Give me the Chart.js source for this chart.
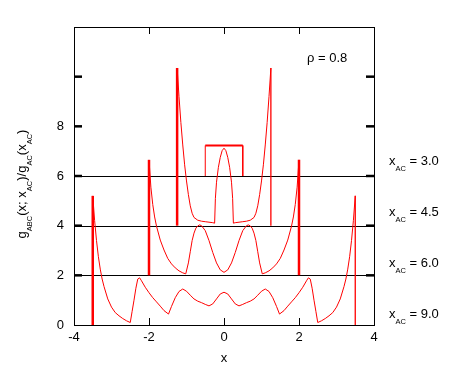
<!DOCTYPE html>
<html>
<head>
<meta charset="utf-8">
<script src="https://cdn.jsdelivr.net/npm/chart.js@4.4.1/dist/chart.umd.min.js"></script>
<style>
body { margin: 0; background: #fff; }
#wrap { width: 449px; height: 375px; }
</style>
</head>
<body>
<div id="wrap"><canvas id="gabc"></canvas></div>
<script>
// tick marks / labels
const xTickVals = [-4, -2, 0, 2, 4];
const yTickVals = [0, 2, 4, 6, 8, 10];
const yTickLabels = ['0', '2', '4', '6', '8', ''];

// curve names (x_AC) and the baselines each one is shifted onto
const seriesNames = ['3.0', '4.5', '6.0', '9.0'];
const baselines = [6, 4, 2];
const rhoText = 'ρ = 0.8';

// x_AC = 3.0 (shifted by 6)
const x30 = [-0.5, -0.5, 0.5, 0.5];
const y30 = [6, 7.23, 7.23, 6];

// x_AC = 4.5 (shifted by 4)
const x45 = [-1.25, -1.25, -1.2, -1.15, -1.1, -1.05, -1.0, -0.95, -0.9, -0.85, -0.8, -0.7, -0.6, -0.5, -0.4, -0.3,
  -0.25, -0.23, -0.2, -0.15, -0.1, -0.05, 0,
  0.05, 0.1, 0.15, 0.2, 0.23, 0.25, 0.3, 0.4, 0.5, 0.6, 0.7, 0.8, 0.85, 0.9, 0.95, 1.0, 1.05, 1.1, 1.15, 1.2, 1.25, 1.25];
const y45 = [4, 10.35, 9.2, 8.15, 7.25, 6.45, 5.8, 5.25, 4.8, 4.5, 4.33, 4.22, 4.18, 4.16, 4.14, 4.12,
  4.1, 5.1, 5.75, 6.35, 6.75, 7.02, 7.12,
  7.02, 6.75, 6.35, 5.75, 5.1, 4.1, 4.12, 4.14, 4.16, 4.18, 4.22, 4.33, 4.5, 4.8, 5.25, 5.8, 6.45, 7.25, 8.15, 9.2, 10.35, 4];

// x_AC = 6.0 (shifted by 2)
const x60 = [-2, -2, -1.95, -1.9, -1.85, -1.8, -1.7, -1.6, -1.5, -1.4, -1.3, -1.2, -1.1, -1.02,
  -0.95, -0.9, -0.85, -0.8, -0.75, -0.7, -0.65, -0.6, -0.5, -0.4, -0.3, -0.2, -0.1, 0,
  0.1, 0.2, 0.3, 0.4, 0.5, 0.6, 0.65, 0.7, 0.75, 0.8, 0.85, 0.9, 0.95,
  1.02, 1.1, 1.2, 1.3, 1.4, 1.5, 1.6, 1.7, 1.8, 1.85, 1.9, 1.95, 2, 2];
const y60 = [2, 6.65, 5.55, 4.85, 4.35, 3.98, 3.42, 3.02, 2.68, 2.46, 2.3, 2.18, 2.1, 2.06,
  2.5, 2.95, 3.4, 3.7, 3.9, 3.99, 4.03, 4.0, 3.8, 3.4, 2.92, 2.5, 2.22, 2.12,
  2.22, 2.5, 2.92, 3.4, 3.8, 4.0, 4.03, 3.99, 3.9, 3.7, 3.4, 2.95, 2.5,
  2.06, 2.1, 2.18, 2.3, 2.46, 2.68, 3.02, 3.42, 3.98, 4.35, 4.85, 5.55, 6.65, 2];

// x_AC = 9.0 (no shift)
const x90 = [-3.5, -3.5, -3.45, -3.4, -3.35, -3.3, -3.25, -3.2, -3.1, -3.0, -2.9, -2.8, -2.7, -2.6, -2.5,
  -2.45, -2.4, -2.35, -2.3, -2.25, -2.2, -2.1, -2.0, -1.9, -1.8, -1.7, -1.6, -1.48,
  -1.4, -1.3, -1.2, -1.1, -1.0, -0.9, -0.8, -0.7, -0.6, -0.5, -0.4, -0.3, -0.2, -0.1, 0,
  0.1, 0.2, 0.3, 0.4, 0.5, 0.6, 0.7, 0.8, 0.9, 1.0, 1.1, 1.2, 1.3, 1.4,
  1.48, 1.6, 1.7, 1.8, 1.9, 2.0, 2.1, 2.2, 2.25, 2.3, 2.35, 2.4, 2.45,
  2.5, 2.6, 2.7, 2.8, 2.9, 3.0, 3.1, 3.2, 3.25, 3.3, 3.35, 3.4, 3.45, 3.5, 3.5];
const y90 = [0, 5.2, 4.2, 3.4, 2.75, 2.25, 1.85, 1.55, 1.05, 0.72, 0.5, 0.37, 0.26, 0.17, 0.1,
  0.55, 1.0, 1.48, 1.85, 1.9, 1.78, 1.52, 1.3, 1.1, 0.93, 0.76, 0.58, 0.44,
  0.75, 1.1, 1.35, 1.45, 1.36, 1.2, 1.05, 0.96, 0.9, 0.83, 0.77, 0.85, 1.05, 1.25, 1.32,
  1.25, 1.05, 0.85, 0.77, 0.83, 0.9, 0.96, 1.05, 1.2, 1.36, 1.45, 1.35, 1.1, 0.75,
  0.44, 0.58, 0.76, 0.93, 1.1, 1.3, 1.52, 1.78, 1.9, 1.85, 1.48, 1.0, 0.55,
  0.1, 0.17, 0.26, 0.37, 0.5, 0.72, 1.05, 1.55, 1.85, 2.25, 2.75, 3.4, 4.2, 5.2, 0];

const MAIN = '13px "Liberation Sans", Arial, sans-serif';
const SUB = '7.5px "Liberation Sans", Arial, sans-serif';
Chart.defaults.font.family = '"Liberation Sans", Arial, sans-serif';
Chart.defaults.color = '#000';

function pts(xs, ys) {
  return xs.map((x, i) => ({ x: x, y: ys[i] }));
}
const vertical = c => c.p0.parsed.x === c.p1.parsed.x;
// wall stroke widths as gnuplot rendered them (left side heavy, right side lighter)
const rightWall = [1, 1.3, 2.5, 1.3];

const datasets = [];
const curves = [[x30, y30], [x45, y45], [x60, y60], [x90, y90]];
curves.forEach((c, i) => {
  const box = i === 0;
  datasets.push({
    label: seriesNames[i],
    data: pts(c[0], c[1]),
    showLine: true,
    borderColor: '#ff0000',
    borderWidth: 1,
    pointRadius: 0,
    segment: {
      borderWidth: s => {
        if (box) return vertical(s) ? 1 : 2;
        if (!vertical(s)) return 1;
        return s.p0.parsed.x < 0 ? 2.5 : rightWall[i];
      }
    }
  });
});

function richWidth(ctx, parts) {
  let w = 0;
  for (const p of parts) { ctx.font = p[1] ? SUB : MAIN; w += ctx.measureText(p[0]).width; }
  return w;
}
function drawRich(ctx, x, y, parts) {
  for (const p of parts) {
    ctx.font = p[1] ? SUB : MAIN;
    ctx.fillText(p[0], x, p[1] ? y + 6 : y);
    x += ctx.measureText(p[0]).width;
  }
}

const frame = {
  id: 'frame',
  beforeDatasetsDraw(chart) {
    // black zero lines of the shifted curves
    const { ctx, chartArea: a, scales } = chart;
    ctx.save();
    ctx.strokeStyle = '#000';
    ctx.lineWidth = 1;
    baselines.forEach(b => {
      const py = Math.round(scales.y.getPixelForValue(b)) + 0.5;
      ctx.beginPath();
      ctx.moveTo(scales.x.getPixelForValue(-4), py);
      ctx.lineTo(scales.x.getPixelForValue(4), py);
      ctx.stroke();
    });
    ctx.restore();
  },
  afterDatasetsDraw(chart) {
    const { ctx, chartArea: a, scales } = chart;
    const xs = scales.x, ys = scales.y;
    ctx.save();
    ctx.strokeStyle = '#000';
    ctx.fillStyle = '#000';
    ctx.lineWidth = 1;
    ctx.strokeRect(a.left + 0.5, a.top + 0.5, a.right - a.left, a.bottom - a.top);
    // y ticks, both sides, inward
    yTickVals.forEach(v => {
      if (v === 0) return;
      const py = ys.getPixelForValue(v);
      ctx.fillRect(a.left, py - 1.25, 8, 2.5);
      ctx.fillRect(a.right - 8, py - 1.25, 9, 2.5);
    });
    // x ticks top and bottom
    xTickVals.forEach(v => {
      if (v === -4 || v === 4) return;
      const px = Math.round(xs.getPixelForValue(v)) + 0.5;
      ctx.beginPath();
      ctx.moveTo(px, a.bottom); ctx.lineTo(px, a.bottom - 7);
      ctx.moveTo(px, a.top); ctx.lineTo(px, a.top + 7);
      ctx.stroke();
    });
    ctx.restore();
  },
  afterDraw(chart) {
    const { ctx, chartArea: a, scales } = chart;
    ctx.save();
    ctx.fillStyle = '#000';
    ctx.textBaseline = 'alphabetic';
    ctx.textAlign = 'left';
    // curve labels on the right
    seriesNames.forEach((n, i) => {
      drawRich(ctx, a.right + 15, 165 + i * 51, [['x', 0], ['AC', 1], [' = ' + n, 0]]);
    });
    // rho
    ctx.font = MAIN;
    ctx.fillText(rhoText, 307, 62);
    // x title
    ctx.textAlign = 'center';
    ctx.textBaseline = 'middle';
    ctx.fillText('x', scales.x.getPixelForValue(0), 358);
    // y title
    ctx.textAlign = 'left';
    ctx.textBaseline = 'alphabetic';
    const yt = [['g', 0], ['ABC', 1], ['(x; x', 0], ['AC', 1], [')/g', 0], ['AC', 1], ['(x', 0], ['AC', 1], [')', 0]];
    const w = richWidth(ctx, yt);
    ctx.translate(26, 184);
    ctx.rotate(-Math.PI / 2);
    drawRich(ctx, -w / 2, 0, yt);
    ctx.restore();
  }
};

new Chart(document.getElementById('gabc'), {
  type: 'scatter',
  data: { datasets: datasets },
  options: {
    responsive: true,
    maintainAspectRatio: false,
    animation: false,
    layout: { padding: { top: 27, right: 75, left: 0, bottom: 0 } },
    plugins: { legend: { display: false }, tooltip: { enabled: false } },
    elements: { point: { radius: 0 }, line: { tension: 0 } },
    scales: {
      x: {
        type: 'linear', min: -4, max: 4,
        afterBuildTicks: s => { s.ticks = xTickVals.map(v => ({ value: v })); },
        afterFit: s => { s.height = 50; },
        ticks: { color: '#000', font: { size: 13 }, padding: 5, maxRotation: 0, callback: v => String(v) },
        grid: { display: false, drawTicks: false },
        border: { display: false }
      },
      y: {
        type: 'linear', min: 0, max: 12,
        afterBuildTicks: s => { s.ticks = yTickVals.map(v => ({ value: v })); },
        afterFit: s => { s.width = 74; },
        ticks: { color: '#000', font: { size: 13 }, padding: 10, callback: (v, i) => yTickLabels[i] },
        grid: { display: false, drawTicks: false },
        border: { display: false }
      }
    }
  },
  plugins: [frame]
});
</script>
</body>
</html>
